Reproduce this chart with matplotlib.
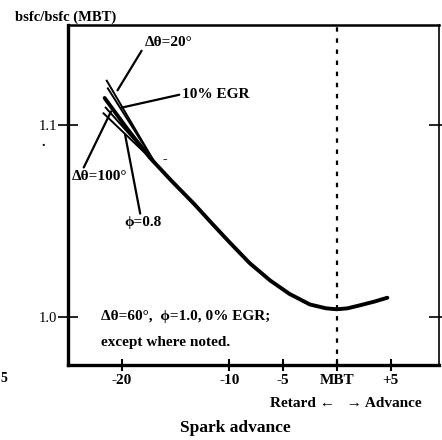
import matplotlib.pyplot as plt

# main curve: dtheta=60 deg, phi=1.0, 0% EGR
spark = [-21.6, -19.5, -17.4, -15.4, -13.3, -11.5, -10.0, -8.1, -6.2, -4.4, -2.5, -1.0, 0.0, 1.0, 2.1, 3.5, 4.7]
bsfc = [1.114, 1.098, 1.083, 1.071, 1.059, 1.048, 1.039, 1.028, 1.019, 1.012, 1.0065, 1.0045, 1.004, 1.0045, 1.006, 1.008, 1.010]

# short variant curves near -20 (they join the main curve)
variant_names = ['dtheta20', 'egr10', 'phi08', 'dtheta100']
variant_x = [[-21.4, -17.0], [-21.3, -17.0], [-21.5, -17.2], [-21.7, -17.4]]
variant_y = [[1.123, 1.081], [1.119, 1.081], [1.109, 1.082], [1.106, 1.083]]

xtick_vals = [-20, -10, -5, 0, 5]
xtick_labels = ['-20', '-10', '-5', 'MBT', '+5']
ytick_vals = [1.0, 1.1]
ytick_labels = ['1.0', '1.1']

plt.rcParams['font.family'] = ['Liberation Serif', 'DejaVu Serif']
plt.rcParams['font.weight'] = 'bold'

fig = plt.figure(figsize=(4.42, 4.40), dpi=100)
ax = fig.add_axes([0.154, 0.1705, 0.839, 0.7727])

ax.plot(spark, bsfc, color='black', lw=2.8, solid_capstyle='round',
        solid_joinstyle='round')
for vx, vy in zip(variant_x, variant_y):
    ax.plot(vx, vy, color='black', lw=1.4)

ax.axvline(0, color='black', lw=1.6, ls=(0, (2, 3)))

ax.set_xlim(-25.0, 9.5)
ax.set_ylim(0.975, 1.152)
ax.set_xticks(xtick_vals)
ax.set_xticklabels(xtick_labels, fontsize=11, fontweight='bold')
ax.set_yticks(ytick_vals)
ax.set_yticklabels(ytick_labels, fontsize=10.5, fontweight='normal')
ax.tick_params(axis='x', direction='inout', length=9, width=1.5, pad=2)
ax.tick_params(axis='y', direction='inout', length=14, width=1.2, pad=1,
               right=True)

for side, w in [('left', 2.4), ('bottom', 2.4), ('top', 1.8), ('right', 1.2)]:
    ax.spines[side].set_linewidth(w)

# labels with pointer lines
tkw = dict(fontsize=11, fontweight='bold', color='black')
lkw = dict(arrowstyle='-', color='black', lw=1.6, shrinkA=0, shrinkB=0)
ax.annotate('Δθ=20°', xy=(-20.4, 1.118), xytext=(-17.9, 1.143),
            ha='left', va='center', arrowprops=dict(lkw, relpos=(0, 0.2)), **tkw)
ax.annotate('10% EGR', xy=(-20.0, 1.109), xytext=(-14.4, 1.116),
            ha='left', va='center', arrowprops=dict(lkw, relpos=(0, 0.5)), **tkw)
ax.annotate('Δθ=100°', xy=(-21.0, 1.107), xytext=(-24.7, 1.073),
            ha='left', va='center', arrowprops=dict(lkw, relpos=(0.2, 1.0)), **tkw)
ax.annotate('ϕ=0.8', xy=(-19.7, 1.095), xytext=(-19.8, 1.049),
            ha='left', va='center', arrowprops=dict(lkw, relpos=(0.45, 1.0)), **tkw)
ax.text(-16.0, 1.082, '-', fontsize=10, ha='center', va='center')

ax.text(-21.9, 1.0, 'Δθ=60°,  ϕ=1.0, 0% EGR;', ha='left', va='center', **tkw)
ax.text(-21.9, 0.9865, 'except where noted.', ha='left', va='center', **tkw)

fig.text(0.035, 0.96, 'bsfc/bsfc (MBT)', ha='left', va='center',
         fontsize=10.5, fontweight='bold')
fig.text(0.782, 0.084, 'Retard ←   → Advance', ha='center', va='center',
         fontsize=11, fontweight='bold')
fig.text(0.532, 0.027, 'Spark advance', ha='center', va='center',
         fontsize=12.5, fontweight='bold')
fig.text(0.002, 0.14, '5', ha='left', va='center', fontsize=10)
fig.text(0.097, 0.675, '.', ha='center', va='center', fontsize=10)

fig.savefig('out.png', dpi=100, facecolor='white')
